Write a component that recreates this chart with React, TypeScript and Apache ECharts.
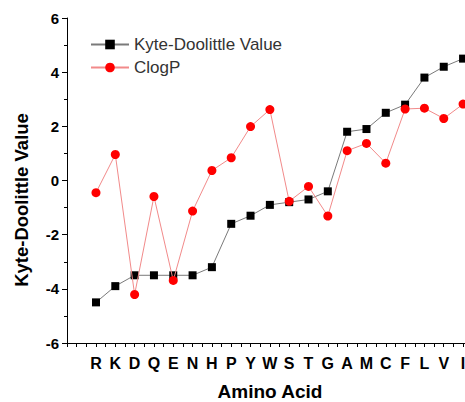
import React, { useEffect, useRef } from "react";
import * as echarts from "echarts";

const aminoAcids = ["R", "K", "D", "Q", "E", "N", "H", "P", "Y", "W", "S", "T", "G", "A", "M", "C", "F", "L", "V", "I"];
const kyteDoolittle = [-4.5, -3.9, -3.5, -3.5, -3.5, -3.5, -3.2, -1.6, -1.3, -0.9, -0.8, -0.7, -0.4, 1.8, 1.9, 2.5, 2.8, 3.8, 4.2, 4.5];
const clogP = [-0.45, 0.96, -4.21, -0.59, -3.69, -1.13, 0.37, 0.84, 1.99, 2.62, -0.77, -0.22, -1.31, 1.1, 1.37, 0.64, 2.64, 2.67, 2.29, 2.82];
const yTicks = { min: -6, max: 6, interval: 2 };
const xTitle = "Amino Acid";
const yTitle = "Kyte-Doolittle Value";

export default function App() {
  const ref = useRef<HTMLDivElement>(null);
  useEffect(() => {
    if (!ref.current) return;
    const chart = echarts.init(ref.current, null, { renderer: "svg" });
    const font = "'Liberation Sans', Arial, sans-serif";
    chart.setOption({
      animation: false,
      textStyle: { fontFamily: font },
      graphic: [
        {
          type: "text",
          x: 21,
          y: 200,
          rotation: Math.PI / 2,
          style: {
            text: yTitle,
            fontFamily: font,
            fontSize: 18.5,
            fontWeight: "bold",
            fill: "#000",
            align: "center",
            verticalAlign: "middle",
          },
        },
        {
          type: "text",
          x: 270,
          y: 391,
          style: {
            text: xTitle,
            fontFamily: font,
            fontSize: 19,
            fontWeight: "bold",
            fill: "#000",
            align: "center",
            verticalAlign: "middle",
          },
        },
      ],
      grid: { left: 67, right: 0, top: 18, bottom: 59, containLabel: false, outerBoundsMode: "none" },
      legend: {
        orient: "vertical",
        left: 90,
        top: 36,
        padding: 0,
        itemWidth: 38,
        itemHeight: 12,
        itemGap: 6,
        textStyle: { fontFamily: font, fontSize: 17, color: "#333" },
        data: ["Kyte-Doolittle Value", "ClogP"],
      },
      xAxis: {
        type: "value",
        min: -1.5,
        max: 19.1,
        interval: 0.5,
        axisLine: { show: true, onZero: false, lineStyle: { color: "#000", width: 1 } },
        axisTick: { show: true, length: 4, lineStyle: { color: "#000" } },
        splitLine: { show: false },
        axisLabel: {
          margin: 12,
          fontFamily: font,
          fontSize: 16,
          fontWeight: "bold",
          color: "#000",
          formatter: (v: number) => {
            const r = Math.round(v);
            if (Math.abs(v - r) > 1e-6) return "";
            return aminoAcids[r] ?? "";
          },
        },
      },
      yAxis: {
        type: "value",
        min: yTicks.min,
        max: yTicks.max,
        interval: yTicks.interval,
        axisLine: { show: true, onZero: false, lineStyle: { color: "#000", width: 1 } },
        axisTick: { show: true, length: 5, lineStyle: { color: "#000" } },
        minorTick: { show: true, splitNumber: 2, length: 3, lineStyle: { color: "#000" } },
        splitLine: { show: false },
        axisLabel: { margin: 8, fontFamily: font, fontSize: 15, fontWeight: "bold", color: "#000" },
      },
      series: [
        {
          name: "Kyte-Doolittle Value",
          type: "line",
          data: kyteDoolittle.map((v, i) => [i, v]),
          symbol: "rect",
          symbolSize: 8,
          itemStyle: { color: "#000" },
          lineStyle: { color: "#7a7a7a", width: 1 },
          z: 2,
        },
        {
          name: "ClogP",
          type: "line",
          data: clogP.map((v, i) => [i, v]),
          symbol: "circle",
          symbolSize: 9,
          itemStyle: { color: "#ff0000" },
          lineStyle: { color: "#f28a8a", width: 1 },
          z: 3,
        },
      ],
    });
    return () => chart.dispose();
  }, []);
  return (
    <div
      ref={ref}
      style={{ position: "fixed", left: 0, top: 0, width: 465, height: 402, background: "#fff" }}
    />
  );
}
